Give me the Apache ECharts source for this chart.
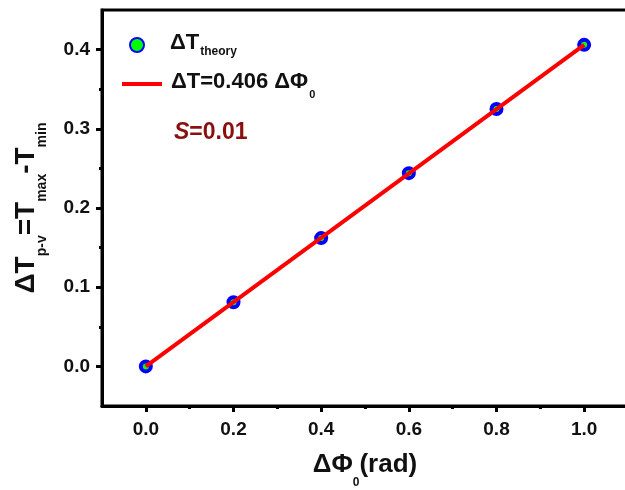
<!DOCTYPE html>
<html>
<head>
<meta charset="utf-8">
<script src="https://cdn.jsdelivr.net/npm/echarts@6/dist/echarts.min.js"></script>
<style>
  html, body { margin: 0; padding: 0; background: #fff; }
  #chart { width: 625px; height: 490px; }
</style>
</head>
<body>
<div id="chart"></div>
<script>
// Phase difference (rad) and the computed peak-to-valley temperature spread
const phaseValues = [0.0, 0.2, 0.4, 0.6, 0.8, 1.0];
const deltaTValues = [0.0, 0.081, 0.162, 0.244, 0.325, 0.406];

// Linear fit ΔT = 0.406 ΔΦ0, drawn between its end points
const fitSlope = 0.406;
const fitX = [0.0, 1.0];
const fitY = fitX.map(x => +(fitSlope * x).toFixed(3));

// Tick positions
const xMajorTicks = [0.0, 0.2, 0.4, 0.6, 0.8, 1.0];
const xMinorTicks = [0.1, 0.3, 0.5, 0.7, 0.9];
const yMajorTicks = [0.0, 0.1, 0.2, 0.3, 0.4];
const yMinorTicks = [0.05, 0.15, 0.25, 0.35];

const FONT = '"Liberation Sans", Arial, sans-serif';
const INK = '#111';

const chart = echarts.init(document.getElementById('chart'), null, { renderer: 'canvas' });

const baseX = {
  type: 'value', min: -0.1, max: 1.1, splitLine: { show: false }
};
const baseY = {
  type: 'value', min: -0.05, max: 0.45, splitLine: { show: false }
};

chart.setOption({
  backgroundColor: '#fff',
  animation: false,
  grid: {
    left: 102, top: 10, width: 526, height: 396,
    outerBoundsMode: 'none',
    containLabel: false,
    show: true, borderColor: '#000', borderWidth: 3, backgroundColor: 'transparent'
  },
  xAxis: [
    Object.assign({}, baseX, {
      position: 'bottom',
      axisLine: { show: true, onZero: false, lineStyle: { color: '#000', width: 3 } },
      axisTick: { show: true, inside: false, length: 6, lineStyle: { color: '#000', width: 3 }, customValues: xMajorTicks },
      axisLabel: {
        show: true, margin: 14, customValues: xMajorTicks,
        formatter: v => v.toFixed(1),
        fontFamily: FONT, fontWeight: 'bold', fontSize: 19, color: INK
      },
      name: '{m|ΔΦ}{s|0}{m|(rad)}',
      nameLocation: 'middle',
      nameGap: 46,
      nameTextStyle: {
        fontFamily: FONT, fontWeight: 'bold', fontSize: 26, color: INK,
        rich: {
          m: { fontFamily: FONT, fontWeight: 'bold', fontSize: 26, lineHeight: 30, verticalAlign: 'top', color: INK },
          s: { fontFamily: FONT, fontWeight: 'bold', fontSize: 12, lineHeight: 12, padding: [25, 0, 0, 0], verticalAlign: 'top', color: INK }
        }
      }
    }),
    Object.assign({}, baseX, {
      position: 'bottom',
      axisLine: { show: false, onZero: false },
      axisTick: { show: true, inside: false, length: 3, lineStyle: { color: '#000', width: 3 }, customValues: xMinorTicks },
      axisLabel: { show: false }
    })
  ],
  yAxis: [
    Object.assign({}, baseY, {
      position: 'left',
      axisLine: { show: true, onZero: false, lineStyle: { color: '#000', width: 3 } },
      axisTick: { show: true, inside: false, length: 6, lineStyle: { color: '#000', width: 3 }, customValues: yMajorTicks },
      axisLabel: {
        show: true, margin: 12, customValues: yMajorTicks,
        formatter: v => v.toFixed(1),
        fontFamily: FONT, fontWeight: 'bold', fontSize: 19, color: INK
      },
      name: '{m|ΔT}{s|p-v}{m|=T}{s|max}{m|-T}{s|min}',
      nameLocation: 'middle',
      nameRotate: 90,
      nameGap: 58,
      nameTextStyle: {
        fontFamily: FONT, fontWeight: 'bold', fontSize: 28, color: INK,
        rich: {
          m: { fontFamily: FONT, fontWeight: 'bold', fontSize: 28, lineHeight: 32, verticalAlign: 'top', color: INK },
          s: { fontFamily: FONT, fontWeight: 'bold', fontSize: 14, lineHeight: 14, padding: [23, 0, 0, 0], verticalAlign: 'top', color: INK }
        }
      }
    }),
    Object.assign({}, baseY, {
      position: 'left',
      axisLine: { show: false, onZero: false },
      axisTick: { show: true, inside: false, length: 3, lineStyle: { color: '#000', width: 3 }, customValues: yMinorTicks },
      axisLabel: { show: false }
    })
  ],
  legend: [
    {
      orient: 'vertical',
      left: 124,
      top: 27,
      itemWidth: 40,
      itemHeight: 14,
      data: ['theory'],
      formatter: () => '{m|ΔT}{s|theory}',
      textStyle: {
        fontFamily: FONT, fontWeight: 'bold', fontSize: 22, color: INK,
        padding: [0, 0, 0, 8],
        rich: {
          m: { fontFamily: FONT, fontWeight: 'bold', fontSize: 22, lineHeight: 26, verticalAlign: 'top', color: INK },
          s: { fontFamily: FONT, fontWeight: 'bold', fontSize: 12, lineHeight: 12, padding: [14, 0, 0, 1], verticalAlign: 'top', color: INK }
        }
      }
    },
    {
      orient: 'vertical',
      left: 117,
      top: 66,
      itemWidth: 40,
      itemHeight: 4,
      data: [{ name: 'fit', icon: 'rect' }],
      formatter: () => '{m|ΔT=0.406 ΔΦ}{z|0}',
      textStyle: {
        fontFamily: FONT, fontWeight: 'bold', fontSize: 22, color: INK,
        padding: [0, 0, 0, 4],
        rich: {
          m: { fontFamily: FONT, fontWeight: 'bold', fontSize: 22, lineHeight: 26, verticalAlign: 'top', color: INK },
          z: { fontFamily: FONT, fontWeight: 'bold', fontSize: 11, lineHeight: 11, padding: [18, 0, 0, 1], verticalAlign: 'top', color: INK }
        }
      }
    }
  ],
  graphic: [{
    type: 'text',
    left: 174,
    top: 121,
    style: {
      text: '{i|S}{n|=0.01}',
      rich: {
        i: { fontFamily: FONT, fontWeight: 'bold', fontStyle: 'italic', fontSize: 23, fill: '#8a1010' },
        n: { fontFamily: FONT, fontWeight: 'bold', fontSize: 23, fill: '#8a1010' }
      }
    }
  }],
  series: [
    {
      name: 'theory',
      type: 'scatter',
      xAxisIndex: 0, yAxisIndex: 0,
      data: phaseValues.map((x, i) => [x, deltaTValues[i]]),
      symbol: 'circle',
      symbolSize: 10,
      itemStyle: { color: '#00ff00', borderColor: '#0000ff', borderWidth: 4, opacity: 1 },
      z: 2
    },
    {
      name: 'fit',
      type: 'line',
      xAxisIndex: 0, yAxisIndex: 0,
      data: fitX.map((x, i) => [x, fitY[i]]),
      showSymbol: false,
      symbol: 'none',
      lineStyle: { color: '#ff0000', width: 4 },
      itemStyle: { color: '#ff0000' },
      z: 3
    }
  ]
});
</script>
</body>
</html>
